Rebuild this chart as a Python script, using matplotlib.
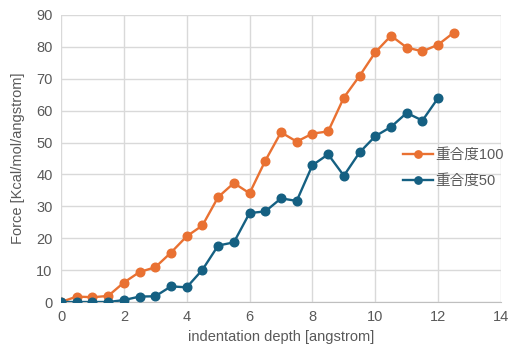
import matplotlib
matplotlib.use('Agg')
import matplotlib.pyplot as plt

plt.rcParams['font.family'] = ['Liberation Sans', 'Noto Sans CJK JP', 'DejaVu Sans']

depth100 = [0, 0.5, 1, 1.5, 2, 2.5, 3, 3.5, 4, 4.5, 5, 5.5, 6, 6.5, 7, 7.5, 8, 8.5, 9, 9.5, 10, 10.5, 11, 11.5, 12, 12.5]
force100 = [0, 1.7, 1.5, 1.9, 6.1, 9.4, 10.9, 15.5, 20.6, 24.0, 32.9, 37.3, 34.1, 44.3, 53.2, 50.3, 52.8, 53.5, 64.1, 70.9, 78.3, 83.5, 79.8, 78.6, 80.7, 84.5]
depth50 = [0, 0.5, 1, 1.5, 2, 2.5, 3, 3.5, 4, 4.5, 5, 5.5, 6, 6.5, 7, 7.5, 8, 8.5, 9, 9.5, 10, 10.5, 11, 11.5, 12]
force50 = [0, 0, 0, 0, 0.6, 1.7, 1.8, 4.9, 4.6, 10.1, 17.7, 18.7, 27.9, 28.4, 32.5, 31.7, 42.9, 46.3, 39.6, 46.9, 52.0, 54.9, 59.3, 56.9, 64.0]
labels = ['重合度100', '重合度50']

orange = '#E97132'
blue = '#156082'
txt = '#595959'

fig = plt.figure(figsize=(5.11, 3.46), dpi=100)
ax = fig.add_axes([61/511, 1 - 302/346, 440/511, 287/346])

ax.plot(depth100, force100, color=orange, lw=1.7, marker='o', markersize=6.2, label=labels[0], zorder=3)
ax.plot(depth50, force50, color=blue, lw=1.7, marker='o', markersize=6.2, label=labels[1], zorder=3)

ax.set_xlim(0, 14)
ax.set_ylim(0, 90)
ax.set_xticks(range(0, 15, 2))
ax.set_yticks(range(0, 91, 10))
ax.grid(True, color='#d9d9d9', lw=1)
ax.set_axisbelow(True)
for s in ['top', 'right', 'left']:
    ax.spines[s].set_visible(False)
ax.spines['bottom'].set_color('#bfbfbf')
ax.tick_params(length=0, colors=txt, labelsize=10.5, pad=6)

ax.set_xlabel('indentation depth [angstrom]', color=txt, fontsize=10.5, labelpad=4)
ax.set_ylabel('Force [Kcal/mol/angstrom]', color=txt, fontsize=10.5, labelpad=8)

ax.legend(loc='center left', bbox_to_anchor=(403/511, 1 - 168/346), bbox_transform=fig.transFigure,
          frameon=False, fontsize=10.5, labelcolor=txt, borderpad=0, borderaxespad=0,
          handlelength=2.05, handletextpad=0.17, labelspacing=0.85, markerscale=0.85)

fig.savefig('out.png', dpi=100)
